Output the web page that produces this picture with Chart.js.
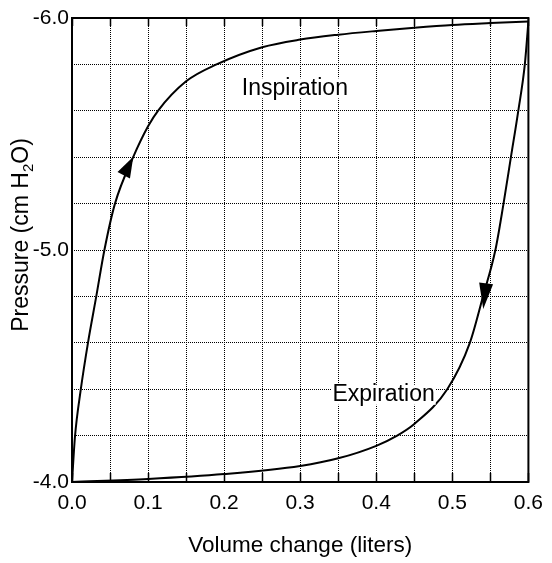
<!DOCTYPE html>
<html>
<head>
<meta charset="utf-8">
<script src="https://cdn.jsdelivr.net/npm/chart.js@4/dist/chart.umd.min.js"></script>
<style>
  html, body { margin: 0; padding: 0; background: #fff; }
  #wrap { width: 552px; height: 563px; }
</style>
</head>
<body>
<div id="wrap"><canvas id="chart" width="552" height="563"></canvas></div>
<script>
// pressure-volume loop, values
const inspVolume = [0, 0.0039, 0.0116, 0.021, 0.0319, 0.0426, 0.0565, 0.0804, 0.1, 0.113, 0.15, 0.19, 0.25, 0.3, 0.35, 0.4, 0.45, 0.5, 0.55, 0.6];
const inspPressure = [-4.0, -4.195, -4.40, -4.60, -4.80, -5.0, -5.2, -5.4, -5.533, -5.6, -5.727, -5.8, -5.874, -5.907, -5.928, -5.944, -5.958, -5.97, -5.978, -5.985];

const expVolume = [0, 0.1, 0.2, 0.3, 0.35, 0.4, 0.4275, 0.45, 0.4933, 0.523, 0.5403, 0.5566, 0.5673, 0.577, 0.5867, 0.5953, 0.6];
const expPressure = [-4.0, -4.013, -4.034, -4.069, -4.102, -4.156, -4.2, -4.25, -4.4, -4.6, -4.8, -5.0, -5.2, -5.4, -5.6, -5.8, -5.985];

// arrow heads: tip and tail point (data units)
const arrowTipX = [0.0806, 0.5406];
const arrowTipY = [-5.402, -4.746];
const arrowTailX = [0.0680, 0.5444];
const arrowTailY = [-5.322, -4.856];

// curve labels
const labelText = ['Inspiration', 'Expiration'];
const labelX = [0.293, 0.4096];
const labelY = [-5.697, -4.376];

const xTitle = 'Volume change (liters)';
const FONT = '"Liberation Sans", Arial, Helvetica, sans-serif';

Chart.defaults.font.family = FONT;
Chart.defaults.color = '#000';

function toPoints(xs, ys) {
  return xs.map((x, i) => ({ x: x, y: ys[i] }));
}

// frame, inward ticks, arrows, labels, y title
const extras = {
  id: 'extras',
  afterDatasetsDraw(chart) {
    const ctx = chart.ctx;
    const a = chart.chartArea;
    const xs = chart.scales.x, ys = chart.scales.y;
    ctx.save();

    // inward tick marks top and bottom
    ctx.strokeStyle = '#000';
    ctx.lineWidth = 1.5;
    ctx.setLineDash([]);
    xs.ticks.forEach(t => {
      const px = Math.round(xs.getPixelForValue(t.value)) + 0.5;
      ctx.beginPath();
      ctx.moveTo(px, a.bottom); ctx.lineTo(px, a.bottom - 9);
      ctx.moveTo(px, a.top); ctx.lineTo(px, a.top + 8);
      ctx.stroke();
    });

    // frame
    ctx.lineWidth = 2;
    ctx.strokeRect(a.left, a.top, a.right - a.left, a.bottom - a.top);

    // arrow heads
    ctx.fillStyle = '#000';
    for (let i = 0; i < arrowTipX.length; i++) {
      const tx = xs.getPixelForValue(arrowTipX[i]), ty = ys.getPixelForValue(arrowTipY[i]);
      const bx = xs.getPixelForValue(arrowTailX[i]), by = ys.getPixelForValue(arrowTailY[i]);
      const dx = tx - bx, dy = ty - by;
      const len = Math.hypot(dx, dy);
      const nx = -dy / len * 7, ny = dx / len * 7;
      ctx.beginPath();
      ctx.moveTo(tx, ty);
      ctx.lineTo(bx + nx, by + ny);
      ctx.lineTo(bx - nx, by - ny);
      ctx.closePath();
      ctx.fill();
    }

    // curve labels
    ctx.font = '23px ' + FONT;
    ctx.textAlign = 'center';
    ctx.textBaseline = 'middle';
    labelText.forEach((s, i) => {
      const px = xs.getPixelForValue(labelX[i]);
      const py = ys.getPixelForValue(labelY[i]);
      ctx.fillStyle = '#fff';
      const w = ctx.measureText(s).width;
      ctx.fillRect(px - w / 2 - 1, py - 10, w + 2, 20);
      ctx.fillStyle = '#000';
      ctx.fillText(s, px, py);
    });

    // y axis title with subscript
    const big = '23px ' + FONT, small = '15px ' + FONT;
    const p1 = 'Pressure (cm H', p2 = '2', p3 = 'O)';
    ctx.font = big; const w1 = ctx.measureText(p1).width, w3 = ctx.measureText(p3).width;
    ctx.font = small; const w2 = ctx.measureText(p2).width;
    const total = w1 + w2 + w3;
    ctx.translate(28, 235);
    ctx.rotate(-Math.PI / 2);
    ctx.textAlign = 'left';
    ctx.textBaseline = 'alphabetic';
    let x0 = -total / 2;
    ctx.font = big; ctx.fillText(p1, x0, 0); x0 += w1;
    ctx.font = small; ctx.fillText(p2, x0, 5); x0 += w2;
    ctx.font = big; ctx.fillText(p3, x0, 0);

    ctx.restore();
  }
};

new Chart(document.getElementById('chart'), {
  type: 'scatter',
  data: {
    datasets: [
      {
        label: 'Inspiration',
        data: toPoints(inspVolume, inspPressure),
        showLine: true,
        borderColor: '#000',
        borderWidth: 2,
        pointRadius: 0,
        cubicInterpolationMode: 'monotone'
      },
      {
        label: 'Expiration',
        data: toPoints(expVolume, expPressure),
        showLine: true,
        borderColor: '#000',
        borderWidth: 2,
        pointRadius: 0,
        cubicInterpolationMode: 'monotone'
      }
    ]
  },
  options: {
    responsive: false,
    animation: false,
    layout: { padding: { top: 18, right: 15, left: 0, bottom: 0 } },
    plugins: {
      legend: { display: false },
      tooltip: { enabled: false }
    },
    scales: {
      x: {
        type: 'linear',
        min: 0,
        max: 0.6,
        afterFit(scale) { scale.height = 81; },
        grid: { color: '#000', lineWidth: 1, drawTicks: false },
        border: { display: false, dash: [1, 1] },
        ticks: {
          stepSize: 0.05,
          autoSkip: false,
          maxRotation: 0,
          padding: 9,
          font: { size: 21 },
          callback(v) {
            return Math.abs(Math.round(v * 10) - v * 10) < 1e-6 ? v.toFixed(1) : '';
          }
        },
        title: {
          display: true,
          text: xTitle,
          font: { size: 22.5 },
          padding: { top: 0, bottom: 4 }
        }
      },
      y: {
        type: 'linear',
        min: -6,
        max: -4,
        reverse: true,
        afterFit(scale) { scale.width = 72; },
        grid: { color: '#000', lineWidth: 1, drawTicks: false },
        border: { display: false, dash: [1, 1] },
        ticks: {
          stepSize: 0.2,
          padding: 3,
          font: { size: 21 },
          callback(v) {
            return Math.abs(v - Math.round(v)) < 1e-6 ? v.toFixed(1) : '';
          }
        }
      }
    }
  },
  plugins: [extras]
});
</script>
</body>
</html>
